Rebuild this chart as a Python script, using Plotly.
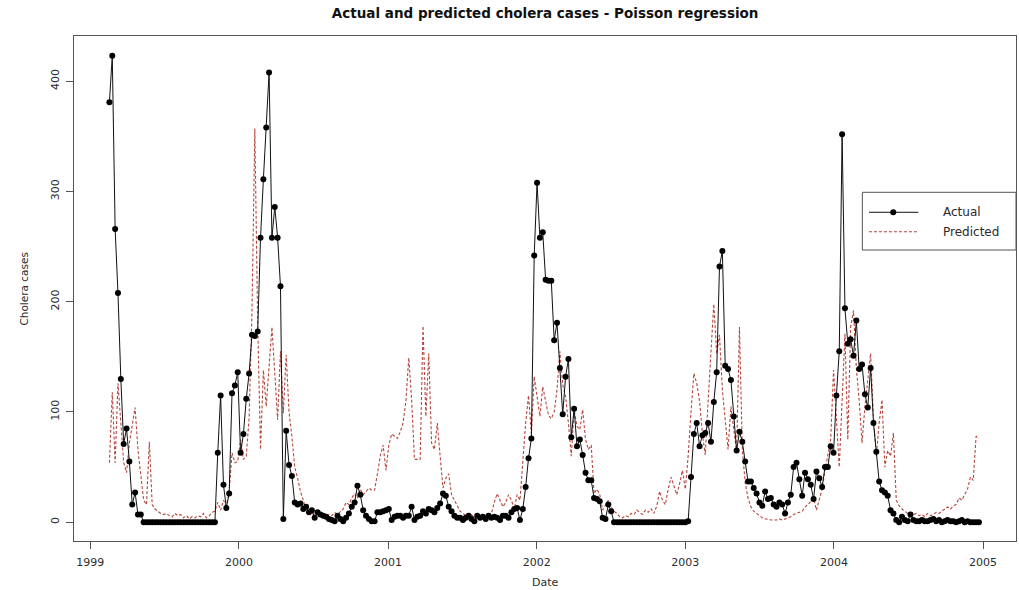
import numpy as np
import pandas as pd
import plotly.graph_objects as go

# Weekly series, first week starting 17 Feb 1999
start_date = "1999-02-17"

actual = [
    381, 423, 266, 208, 130, 71, 85, 55, 16, 27, 7, 7,
    0, 0, 0, 0, 0, 0, 0, 0, 0, 0, 0, 0, 0, 0, 0, 0, 0, 0, 0, 0, 0, 0, 0, 0, 0, 0,
    63, 115, 34, 13, 26, 117, 124, 136, 63, 80, 112, 135, 170, 169, 173, 258,
    311, 358, 408, 258, 286, 258, 214, 3, 83, 52, 42, 18,
    16, 17, 12, 14, 9, 11, 4, 9, 7, 6, 5, 3, 2, 1, 6, 3, 1, 4, 8, 14,
    18, 33, 25, 11, 6, 3, 1,
    1, 9, 9, 10, 11, 12, 2, 5, 6, 6, 4, 6, 6, 14, 2, 5, 6, 10, 8, 12,
    11, 9, 13, 17, 26, 24, 14, 10, 6, 4, 4, 2, 4, 6, 3, 1, 6, 4, 5, 3,
    6, 4, 5, 4, 2, 6, 6, 4, 9, 12, 13, 2, 12,
    32, 58, 76, 242, 308, 258, 263, 220, 219, 219, 165, 181, 140, 98, 132, 148,
    77, 103, 69, 75, 61, 45, 38, 38, 22, 21, 19, 4, 3, 16, 10,
    0, 0, 0, 0, 0, 0, 0, 0, 0, 0, 0, 0, 0, 0, 0, 0, 0, 0, 0, 0, 0, 0, 0, 0, 0, 0,
    1, 41, 80, 90, 69, 79, 81, 90, 73, 109, 136, 232, 246, 142, 139, 129,
    96, 65, 82, 73, 55, 37, 37, 31, 26, 18, 15, 28, 21, 22, 16, 14, 18, 16,
    8, 18, 25, 50, 54, 39, 24, 45, 39, 34, 21, 46, 40, 32, 50, 50, 69,
    63, 115, 155, 352, 194, 162, 166, 151, 183, 139, 143, 116, 104, 140, 90,
    64, 37, 29, 27, 24, 11, 8, 2,
    0, 5, 2, 1, 7, 2, 1, 1, 2, 1, 1, 2, 3, 1, 2, 0, 1, 2, 1, 1, 0, 1, 2, 0,
    1, 0, 0, 0, 0,
]

predicted = [
    54, 118, 54, 126, 90, 54, 45, 72, 88, 104, 66, 40, 20, 16, 73, 16, 12, 10,
    8, 7, 8, 6, 5, 8, 6, 7, 4, 6, 3, 5, 4, 6, 5, 8, 4, 6, 9, 10, 18,
    11, 20, 15, 28, 63, 54, 55, 75, 57, 60, 95, 190,
    357, 180, 66, 138, 105, 140, 177, 135, 93, 155, 99, 152, 100, 78, 50, 40,
    28, 20, 11, 10,
    8, 7, 9, 6, 8, 5, 7, 6, 9, 7, 10, 12, 18, 16, 22, 26, 22, 30, 25, 28,
    31, 29, 29, 44, 60, 70, 47, 70, 80, 78, 76, 82, 90, 110, 149, 111, 57, 57,
    57, 178, 96, 153, 72, 66, 90, 60, 31, 40, 44, 25, 20, 14, 10, 8, 6, 5,
    7, 4, 6, 5, 4, 6, 7, 8, 18, 26, 20, 14, 18, 25, 20, 12, 25, 20, 55,
    90, 115, 80, 132, 116, 96, 123, 110, 97, 94, 100, 120, 155, 125, 114, 90,
    60, 102, 87, 84, 102, 75, 66, 70, 26, 30, 25, 11, 15, 20, 14, 10, 8, 5,
    4, 6, 5, 8, 7, 11, 9, 7, 11, 9, 12, 8, 15, 28, 20, 16, 30, 41, 33, 25,
    35, 47, 30,
    60, 100, 135, 126, 110, 80, 61, 110, 150, 198, 153, 170, 120, 90, 66, 105,
    85, 64, 177, 66, 36, 22, 14, 10, 8, 6, 4, 3, 3, 2, 2, 2, 3, 2, 3, 4, 5,
    7, 8, 9, 10, 14, 16, 19, 22, 11, 20, 30, 47, 60, 75,
    138, 95, 50, 110, 171, 75, 177, 192, 140, 110, 72, 105, 130, 153, 96, 60,
    90, 111, 50, 65, 60, 81, 20, 15, 12, 10, 8, 9, 7, 8, 6, 7, 5, 8, 6, 7, 9,
    8, 10, 12, 14, 12, 15, 16, 22, 20, 25, 30, 41, 38, 78, 76,
]

year_ticks = ["1999", "2000", "2001", "2002", "2003", "2004", "2005"]
case_ticks = [0, 100, 200, 300, 400]

dates = pd.date_range(start_date, periods=len(actual), freq="7D")

FONT = "DejaVu Sans, Verdana, sans-serif"
AXIS_GREY = "#555555"
TEXT = "#2b2b2b"
RED = "#b5463e"

fig = go.Figure()

fig.add_trace(go.Scatter(
    x=dates, y=predicted, mode="lines", name="Predicted",
    line=dict(color=RED, width=1.1, dash="3px,2px"),
    showlegend=False,
))
fig.add_trace(go.Scatter(
    x=dates, y=actual, mode="lines+markers", name="Actual",
    line=dict(color="#111111", width=1),
    marker=dict(color="#000000", size=6, symbol="circle"),
    showlegend=False,
))

# Legend box drawn in paper coordinates, flush with the right edge of the panel
shapes = [
    dict(type="rect", xref="paper", yref="paper", x0=0.8369, x1=1.0,
         y0=0.5762, y1=0.6905, line=dict(color=AXIS_GREY, width=1),
         fillcolor="white", layer="above"),
    dict(type="line", xref="paper", yref="paper", x0=0.8439, x1=0.8963,
         y0=0.6509, y1=0.6509, line=dict(color="#111111", width=1), layer="above"),
    dict(type="line", xref="paper", yref="paper", x0=0.8439, x1=0.8963,
         y0=0.6125, y1=0.6125, line=dict(color=RED, width=1.1, dash="3px,2px"),
         layer="above"),
    dict(type="circle", xref="paper", yref="paper", x0=0.8665, x1=0.8729,
         y0=0.6450, y1=0.6568, fillcolor="#000000",
         line=dict(color="#000000", width=0), layer="above"),
]

annotations = [
    dict(text="Actual", xref="paper", yref="paper", x=0.9201, y=0.6509,
         xanchor="left", yanchor="middle", showarrow=False,
         font=dict(family=FONT, size=12, color=TEXT)),
    dict(text="Predicted", xref="paper", yref="paper", x=0.9201, y=0.6125,
         xanchor="left", yanchor="middle", showarrow=False,
         font=dict(family=FONT, size=12, color=TEXT)),
    # axis titles
    dict(text="Date", xref="paper", yref="paper", x=0.5, y=-0.083,
         xanchor="center", yanchor="middle", showarrow=False,
         font=dict(family=FONT, size=11, color=TEXT)),
    dict(text="Cholera cases", xref="paper", yref="paper", x=-0.0541, y=0.5,
         xanchor="center", yanchor="middle", showarrow=False, textangle=-90,
         font=dict(family=FONT, size=10.5, color=TEXT)),
]

fig.update_layout(
    width=1019, height=590,
    margin=dict(l=74, r=3, t=36, b=49),
    paper_bgcolor="white", plot_bgcolor="white",
    font=dict(family=FONT, size=11, color=TEXT),
    title=dict(text="<b>Actual and predicted cholera cases - Poisson regression</b>",
               x=0.535, xanchor="center", y=0.978, yanchor="middle",
               font=dict(family=FONT, size=13.5, color="#111111")),
    shapes=shapes,
    annotations=annotations,
    xaxis=dict(
        range=["1998-11-22", "2005-03-23"],
        tickvals=[pd.Timestamp(f"{y}-01-01") for y in year_ticks],
        ticktext=year_ticks,
        ticks="outside", ticklen=7, tickcolor=AXIS_GREY, tickwidth=1,
        ticklabelstandoff=4,
        showline=True, linecolor=AXIS_GREY, linewidth=1, mirror=True,
        showgrid=False, zeroline=False, automargin=False,
        tickfont=dict(family=FONT, size=11, color=TEXT),
    ),
    yaxis=dict(
        range=[-17, 441],
        tickvals=case_ticks,
        ticks="outside", ticklen=7, tickcolor=AXIS_GREY, tickwidth=1,
        ticklabelstandoff=3,
        tickangle=-90,
        showline=True, linecolor=AXIS_GREY, linewidth=1, mirror=True,
        showgrid=False, zeroline=False, automargin=False,
        tickfont=dict(family=FONT, size=11, color=TEXT),
    ),
)

fig.write_html("out.html")
